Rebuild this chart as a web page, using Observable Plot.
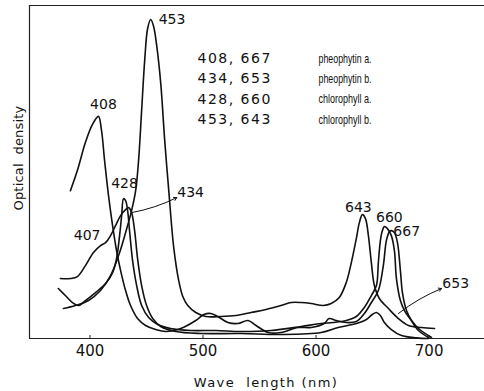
<!DOCTYPE html>
<html><head><meta charset="utf-8">
<script src="https://cdn.jsdelivr.net/npm/d3@7"></script>
<script src="https://cdn.jsdelivr.net/npm/@observablehq/plot@0.6"></script>
<style>body{margin:0;background:#fff}svg{display:block}</style>
</head><body><div id="chart"></div>
<script>
// wavelength (nm), optical density (arbitrary units)
const pheophytinA = [[382.7,44.4],[388.9,50.5],[396.0,58.9],[402.2,64.3],[407.5,66.7],[410.2,62.5],[412.9,53.5],[416.4,42.9],[420.0,33.9],[423.5,26.4],[427.1,20.4],[431.5,14.4],[435.9,9.9],[442.1,6.0],[449.2,3.9],[458.1,2.7],[467.0,2.1],[480.3,3.0],[493.6,5.4],[500.7,7.2],[506.9,7.5],[513.1,6.6],[522.0,4.8],[530.9,4.5],[539.8,5.4],[546.9,3.9],[557.5,1.8],[569.0,1.8],[584.1,3.3],[595.7,3.3],[607.2,4.5],[611.6,6.0],[617.8,5.4],[626.7,4.8],[635.6,5.1],[642.7,7.5],[648.9,10.8],[655.1,14.4],[659.5,21.9],[662.2,29.4],[664.9,32.1],[666.6,32.4],[669.3,31.8],[672.0,28.8],[674.6,20.4],[676.4,13.8],[680.0,8.4],[684.4,5.4],[690.6,2.4],[699.5,0.3]];
const pheophytinB = [[373.8,18.0],[382.7,18.0],[388.9,18.6],[396.0,21.9],[403.1,25.8],[409.3,27.9],[413.8,28.8],[418.2,30.9],[422.6,33.9],[427.1,36.9],[431.5,38.7],[434.2,39.3],[436.8,37.8],[439.5,32.4],[442.1,24.0],[445.7,15.9],[450.1,9.9],[455.5,6.0],[462.6,3.6],[475.9,2.1],[498.0,1.5],[533.5,1.5],[569.0,1.2],[604.6,1.8],[619.6,3.3],[635.6,4.5],[644.5,5.7],[649.8,7.2],[653.4,7.8],[656.9,6.9],[660.4,4.8],[666.6,2.7],[675.5,0.9],[688.8,0.2],[699.5,0.0]];
const chlorophyllA = [[372.0,15.0],[379.1,12.6],[384.5,10.8],[389.8,9.9],[396.0,11.4],[404.9,13.8],[413.8,16.5],[420.0,19.8],[423.5,24.0],[426.2,30.9],[428.0,36.9],[429.7,42.0],[431.5,41.4],[433.3,38.4],[435.0,32.4],[437.7,23.4],[441.3,15.9],[445.7,9.9],[451.9,6.3],[459.9,4.2],[471.4,3.0],[489.2,2.4],[511.4,2.4],[533.5,2.1],[560.2,2.4],[586.8,3.6],[604.6,4.5],[615.2,4.8],[626.7,5.4],[635.6,6.6],[642.7,9.3],[648.9,12.9],[653.4,15.9],[655.1,22.8],[656.9,29.4],[658.7,32.4],[660.4,33.6],[663.1,33.0],[666.6,30.9],[669.3,26.4],[671.1,18.0],[674.6,11.4],[678.2,8.4],[684.4,5.4],[690.6,3.0],[702.1,0.3]];
const chlorophyllB = [[376.5,9.0],[387.1,9.9],[398.7,11.4],[409.3,14.4],[418.2,18.9],[425.3,24.9],[431.5,31.8],[436.8,38.4],[440.4,44.4],[443.0,53.5],[445.7,68.5],[448.4,83.5],[451.0,93.1],[453.7,95.8],[456.3,93.7],[459.0,88.0],[462.6,76.6],[466.1,59.5],[469.7,44.4],[474.1,27.3],[478.5,17.4],[482.1,12.6],[486.5,9.9],[493.6,7.8],[502.5,6.6],[515.8,6.6],[529.1,6.9],[542.5,7.8],[555.7,8.7],[569.0,9.9],[578.0,10.8],[586.8,10.8],[595.7,10.5],[606.4,9.9],[613.4,10.5],[620.5,12.3],[626.7,16.8],[631.2,22.8],[635.6,30.0],[638.3,34.8],[641.0,37.2],[643.7,36.0],[646.3,30.9],[648.9,22.8],[651.6,15.9],[656.0,12.0],[664.0,9.0],[672.8,6.0],[681.7,3.9],[693.3,3.3],[704.8,3.0]];

const seriesNames = ["pheophytin a.", "pheophytin b.", "chlorophyll a.", "chlorophyll b."];
const seriesPeaks = ["408, 667", "434, 653", "428, 660", "453, 643"];
const seriesPoints = [pheophytinA, pheophytinB, chlorophyllA, chlorophyllB];
const xTicks = [400, 500, 600, 700];
const xDomain = [346.5, 749];
const yDomain = [0, 100];

const rows = seriesPoints.flatMap((pts, i) => pts.map(([nm, od]) => ({series: seriesNames[i], nm, od})));

// point of a series nearest a wavelength (for peak labels)
function at(pts, nm) {
  let best = pts[0];
  for (const p of pts) if (Math.abs(p[0] - nm) < Math.abs(best[0] - nm)) best = p;
  return {nm: best[0], od: best[1]};
}
function peakLabel(pts, nm, label, dx, dy, anchor = "middle") {
  return Plot.text([at(pts, nm)], {x: "nm", y: "od", text: () => label, dx, dy, textAnchor: anchor,
    fontSize: 14, fill: "#111"});
}

const font = "DejaVu Sans, sans-serif";
const marks = [
  Plot.ruleX([xDomain[0]], {stroke: "#222", strokeWidth: 1.2}),
  Plot.ruleY(yDomain, {stroke: "#222", strokeWidth: 1.2}),
  Plot.axisX({ticks: xTicks, tickSize: -3, tickPadding: 10, fontSize: 15, label: null, stroke: "#222"}),
  Plot.line(rows, {x: "nm", y: "od", z: "series", curve: "catmull-rom", stroke: "#111", strokeWidth: 1.6}),
  peakLabel(chlorophyllB, 453, "453", 8, 0, "start"),
  peakLabel(pheophytinA, 408, "408", 5, -12),
  peakLabel(chlorophyllA, 430, "428", 1, -15),
  peakLabel(pheophytinB, 409, "407", 0, -10, "end"),
  peakLabel(chlorophyllB, 641, "643", -4, -7),
  peakLabel(chlorophyllA, 660, "660", 5, -9),
  peakLabel(pheophytinA, 667, "667", 2, 1, "start"),
  // arrows to the 434 and 653 labels
  Plot.arrow([at(pheophytinB, 436)], {
    x1: "nm", y1: "od", x2: d => d.nm + 40, y2: d => d.od + 4.5,
    bend: -8, headLength: 5, stroke: "#111", strokeWidth: 1}),
  Plot.text([at(pheophytinB, 434)], {x: d => d.nm + 43, y: d => d.od + 4.5, text: () => "434", textAnchor: "start", fontSize: 14, fill: "#111"}),
  Plot.arrow([at(pheophytinB, 673)], {
    x1: () => 672.8, y1: () => 7.5, x2: () => 711, y2: () => 15,
    bend: 8, headLength: 5, stroke: "#111", strokeWidth: 1}),
  Plot.text([at(pheophytinB, 653)], {x: () => 723.5, y: () => 16.5, text: () => "653", fontSize: 14, fill: "#111"}),
  // axis titles
  Plot.text(["Wave  length (nm)"], {frameAnchor: "bottom", dx: 9, dy: 44, lineAnchor: "middle", textAnchor: "middle", text: d => d, fontSize: 13, fill: "#111"}),
  Plot.text(["Optical  density"], {frameAnchor: "left", rotate: -90, dx: -11, dy: -14, lineAnchor: "middle", textAnchor: "middle", text: d => d, fontSize: 13, fill: "#111"}),
  // legend block
  ...seriesPeaks.map((t, i) => Plot.text([t], {frameAnchor: "top-left", dx: 168, dy: 53 + 20.3 * i, lineAnchor: "middle", text: d => d, textAnchor: "start", fontSize: 14, fill: "#111"})),
  ...seriesNames.map((t, i) => Plot.text([t], {frameAnchor: "top-left", dx: 289, dy: 53 + 20.3 * i, lineAnchor: "middle", text: d => d, textAnchor: "start", fontSize: 13, fill: "#111", fontFamily: "Liberation Sans, sans-serif"}))
];

const chart = Plot.plot({
  width: 484, height: 391,
  marginLeft: 29, marginRight: 0, marginTop: 5, marginBottom: 53,
  x: {domain: xDomain},
  y: {domain: yDomain, axis: null},
  style: {fontFamily: font, background: "#fff", color: "#111"},
  marks
});
chart.querySelectorAll("text").forEach(t => {
  const s = t.textContent;
  if (seriesPeaks.includes(s)) t.style.letterSpacing = "1.5px";
  if (seriesNames.includes(s)) { t.setAttribute("textLength", 53); t.setAttribute("lengthAdjust", "spacingAndGlyphs"); }
  if (s.startsWith("Wave")) { t.style.letterSpacing = "1.4px"; t.style.whiteSpace = "pre"; }
  if (s.startsWith("Optical")) { t.style.letterSpacing = "0.2px"; t.style.whiteSpace = "pre"; }
});
document.getElementById("chart").append(chart);
</script>
</body></html>
